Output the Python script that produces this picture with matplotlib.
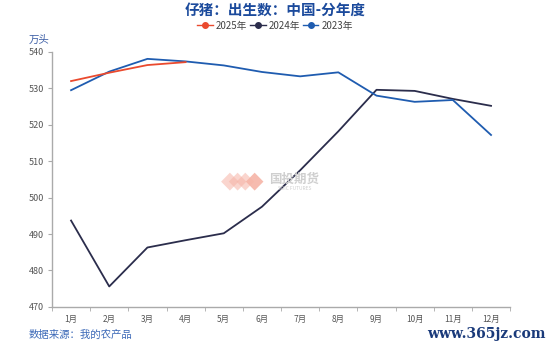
import numpy as np
import matplotlib.pyplot as plt
from matplotlib.ticker import FixedLocator
from matplotlib.patches import Polygon

plt.rcParams['font.family'] = ['Noto Sans CJK SC', 'DejaVu Sans']

months = ['1月', '2月', '3月', '4月', '5月', '6月', '7月', '8月', '9月', '10月', '11月', '12月']
y2025 = [532.0, 534.3, 536.4, 537.2]
y2024 = [493.7, 475.6, 486.3, 488.3, 490.2, 497.5, 507.5, 518.2, 529.6, 529.3, 527.1, 525.2]
y2023 = [529.5, 534.6, 538.1, 537.4, 536.3, 534.5, 533.3, 534.4, 528.0, 526.3, 526.8, 517.2]

c2025 = '#ea4a2e'
c2024 = '#2b2d4c'
c2023 = '#1f5cb0'
title_color = '#1b4a9c'

fig = plt.figure(figsize=(5.5, 3.44), dpi=100)
ax = fig.add_axes([0.0945, 0.108, 0.833, 0.741])

x = np.arange(len(months))
ax.plot(x[:len(y2025)], y2025, color=c2025, lw=1.3, label='2025年', zorder=4)
ax.plot(x, y2024, color=c2024, lw=1.3, label='2024年', zorder=3)
ax.plot(x, y2023, color=c2023, lw=1.3, label='2023年', zorder=3)

ax.set_xlim(-0.5, 11.5)
ax.set_ylim(470, 540)
ax.set_yticks(np.arange(470, 541, 10))
ax.set_xticks(x)
ax.set_xticklabels(months)
ax.xaxis.set_minor_locator(FixedLocator(np.arange(-0.5, 12, 1)))
ax.tick_params(axis='x', which='major', length=0, labelsize=6, colors='#555555', pad=6)
ax.tick_params(axis='x', which='minor', length=3, color='#aaaaaa', direction='out')
ax.tick_params(axis='y', length=3, color='#aaaaaa', labelsize=6.5, colors='#555555', pad=3)

for s in ['top', 'right']:
    ax.spines[s].set_visible(False)
for s in ['left', 'bottom']:
    ax.spines[s].set_color('#aaaaaa')
    ax.spines[s].set_linewidth(1.0)

# legend handles drawn as line with a dot
handles = [
    plt.Line2D([], [], color=c2025, lw=1, marker='o', ms=4),
    plt.Line2D([], [], color=c2024, lw=1, marker='o', ms=4),
    plt.Line2D([], [], color=c2023, lw=1, marker='o', ms=4),
]
fig.legend(handles, ['2025年', '2024年', '2023年'], loc='center', bbox_to_anchor=(0.5, 0.925),
           ncol=3, frameon=False, fontsize=7, handlelength=1.6, columnspacing=0.3,
           handletextpad=0.3, labelcolor='#444444')

fig.text(0.5, 0.972, '仔猪：出生数：中国-分年度', ha='center', va='center',
         fontsize=10.5, fontweight='bold', color=title_color)
fig.text(0.052, 0.885, '万头', ha='left', va='center', fontsize=7.5, color='#3d5fa6')
fig.text(0.052, 0.027, '数据来源：我的农产品', ha='left', va='center', fontsize=7.5, color='#3d6ab8')

# watermark: salmon diamond logo plus company name
for i, cx in enumerate([0.418, 0.432, 0.446, 0.463]):
    hw, hh = 0.016, 0.026
    diamond = Polygon([(cx - hw, 0.472), (cx, 0.472 + hh), (cx + hw, 0.472), (cx, 0.472 - hh)],
                      closed=True, transform=fig.transFigure, facecolor='#f6b4a6',
                      edgecolor='none', alpha=0.55 if i < 3 else 0.9)
    fig.add_artist(diamond)
fig.text(0.535, 0.478, '国投期货', ha='center', va='center', fontsize=9,
         fontweight='bold', color='#cfcfcf')
fig.text(0.535, 0.452, 'SDIC FUTURES', ha='center', va='center', fontsize=3.5,
         color='#cfcfcf')

fig.text(0.992, 0.008, 'www.365jz.com', ha='right', va='bottom', fontsize=10,
         family='DejaVu Serif', fontweight='bold', color='#1a3a7a')

fig.savefig('out.png', dpi=100)
